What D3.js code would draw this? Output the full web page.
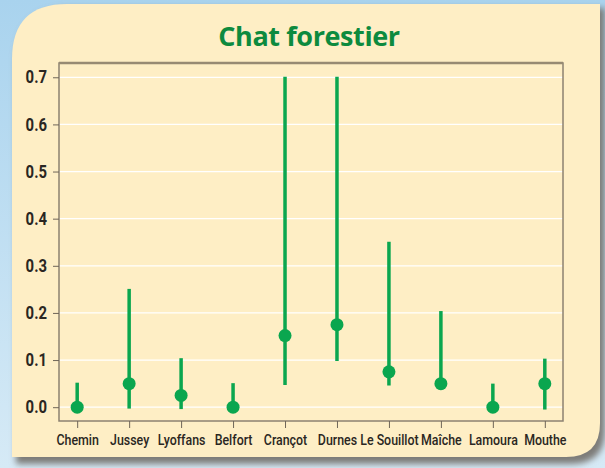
<!DOCTYPE html>
<html>
<head>
<meta charset="utf-8">
<script src="https://cdn.jsdelivr.net/npm/d3@7"></script>
<style>
  html, body { margin: 0; padding: 0; }
  body { width: 605px; height: 468px; overflow: hidden; }
  .tick text { font-family: Roboto, "Liberation Sans", sans-serif; fill: #2a2622; }
</style>
</head>
<body>
<div class="chart"></div>
<script>
// Sites, point estimates and interval bounds
var sites = ["Chemin", "Jussey", "Lyoffans", "Belfort", "Crançot", "Durnes", "Le Souillot", "Maîche", "Lamoura", "Mouthe"];
var estimate = [0, 0.05, 0.025, 0, 0.152, 0.175, 0.075, 0.05, 0, 0.05];
var lower = [0, -0.003, -0.004, 0, 0.047, 0.098, 0.046, 0.05, 0, -0.005];
var upper = [0.052, 0.251, 0.104, 0.051, 0.701, 0.701, 0.351, 0.204, 0.05, 0.103];
var yTicks = [0, 0.1, 0.2, 0.3, 0.4, 0.5, 0.6, 0.7];

var svgWidth = 605;
var svgHeight = 468;

var chartMargin = { top: 63, right: 42, bottom: 47, left: 59 };
var chartWidth = svgWidth - chartMargin.left - chartMargin.right;
var chartHeight = svgHeight - chartMargin.top - chartMargin.bottom;

var green = "#0aa64f";

var svg = d3.select(".chart")
  .append("svg")
  .attr("width", svgWidth)
  .attr("height", svgHeight);

var defs = svg.append("defs");
var bg = defs.append("linearGradient")
  .attr("id", "bg")
  .attr("x1", 0).attr("y1", 0).attr("x2", 0).attr("y2", 1);
bg.append("stop").attr("offset", "0%").attr("stop-color", "#a9d3ee");
bg.append("stop").attr("offset", "100%").attr("stop-color", "#d6eaf6");

var blur = defs.append("filter").attr("id", "shadow")
  .attr("x", "-10%").attr("y", "-10%").attr("width", "120%").attr("height", "120%");
blur.append("feGaussianBlur").attr("stdDeviation", 3);

// background
svg.append("rect")
  .attr("width", svgWidth)
  .attr("height", svgHeight)
  .attr("fill", "url(#bg)");

// panel with rounded top-left and bottom-right corners
function panelPath(x0, y0, x1, y1, r1, r2) {
  return "M" + (x0 + r1) + "," + y0 +
    "L" + x1 + "," + y0 +
    "L" + x1 + "," + (y1 - r2) +
    "Q" + x1 + "," + y1 + " " + (x1 - r2) + "," + y1 +
    "L" + x0 + "," + y1 +
    "L" + x0 + "," + (y0 + r1) +
    "Q" + x0 + "," + y0 + " " + (x0 + r1) + "," + y0 + "Z";
}

svg.append("path")
  .attr("d", panelPath(16, 8, 605, 464, 55, 34))
  .attr("fill", "#7d7b78")
  .attr("filter", "url(#shadow)");

svg.append("path")
  .attr("d", panelPath(12, 4, 600, 457, 55, 34))
  .attr("fill", "#feeec5");

// title
svg.append("text")
  .attr("x", 309)
  .attr("y", 46)
  .attr("text-anchor", "middle")
  .attr("font-family", "'Open Sans', 'Noto Sans', sans-serif")
  .attr("font-weight", "bold")
  .attr("font-size", "27px")
  .attr("fill", "#0d8a3e")
  .style("letter-spacing", "-0.4px")
  .text("Chat forestier");

var chartGroup = svg.append("g")
  .attr("transform", `translate(${chartMargin.left}, ${chartMargin.top})`);

var xScale = d3.scalePoint()
  .domain(sites)
  .range([0, chartWidth])
  .padding(0.35);

var yScale = d3.scaleLinear()
  .domain([-0.0293, 0.7303])
  .range([chartHeight, 0]);

// gridlines
chartGroup.selectAll(".grid")
  .data(yTicks)
  .enter()
  .append("line")
  .attr("class", "grid")
  .attr("x1", 0)
  .attr("x2", chartWidth)
  .attr("y1", d => yScale(d))
  .attr("y2", d => yScale(d))
  .attr("stroke", "#ffffff")
  .attr("stroke-width", 1.2);

// frame
chartGroup.append("rect")
  .attr("width", chartWidth)
  .attr("height", chartHeight)
  .attr("fill", "none")
  .attr("stroke", "#8c8170")
  .attr("stroke-width", 1.5);

chartGroup.append("line")
  .attr("x1", 0).attr("x2", chartWidth)
  .attr("y1", 0).attr("y2", 0)
  .attr("stroke", "#978a73")
  .attr("stroke-width", 2.5);

var leftAxis = d3.axisLeft(yScale)
  .tickValues(yTicks)
  .tickFormat(d3.format(".1f"))
  .tickSize(6)
  .tickPadding(0);

var yAxisG = chartGroup.append("g").call(leftAxis);
yAxisG.select(".domain").remove();
yAxisG.selectAll(".tick line").attr("stroke", "#6f6558");
// condensed look: squeeze the labels horizontally
yAxisG.selectAll(".tick text")
  .attr("x", 0)
  .attr("transform", "translate(-12,0) scale(0.85,1)")
  .style("font-size", "17.5px")
  .style("font-weight", "bold");

var bottomAxis = d3.axisBottom(xScale)
  .tickSize(7)
  .tickPadding(6);

var xAxisG = chartGroup.append("g")
  .attr("transform", `translate(0, ${chartHeight})`)
  .call(bottomAxis);
xAxisG.select(".domain").remove();
xAxisG.selectAll(".tick line").attr("stroke", "#6f6558");
xAxisG.selectAll(".tick text")
  .attr("transform", "scale(0.8,1)")
  .style("font-size", "15.5px")
  .style("font-weight", "500");

// intervals
chartGroup.selectAll(".ci")
  .data(sites)
  .enter()
  .append("line")
  .attr("class", "ci")
  .attr("x1", d => xScale(d))
  .attr("x2", d => xScale(d))
  .attr("y1", (d, i) => yScale(lower[i]))
  .attr("y2", (d, i) => yScale(upper[i]))
  .attr("stroke", green)
  .attr("stroke-width", 3.5);

// estimates
chartGroup.selectAll(".pt")
  .data(sites)
  .enter()
  .append("circle")
  .attr("class", "pt")
  .attr("cx", d => xScale(d))
  .attr("cy", (d, i) => yScale(estimate[i]))
  .attr("r", 6.5)
  .attr("fill", green);
</script>
</body>
</html>
